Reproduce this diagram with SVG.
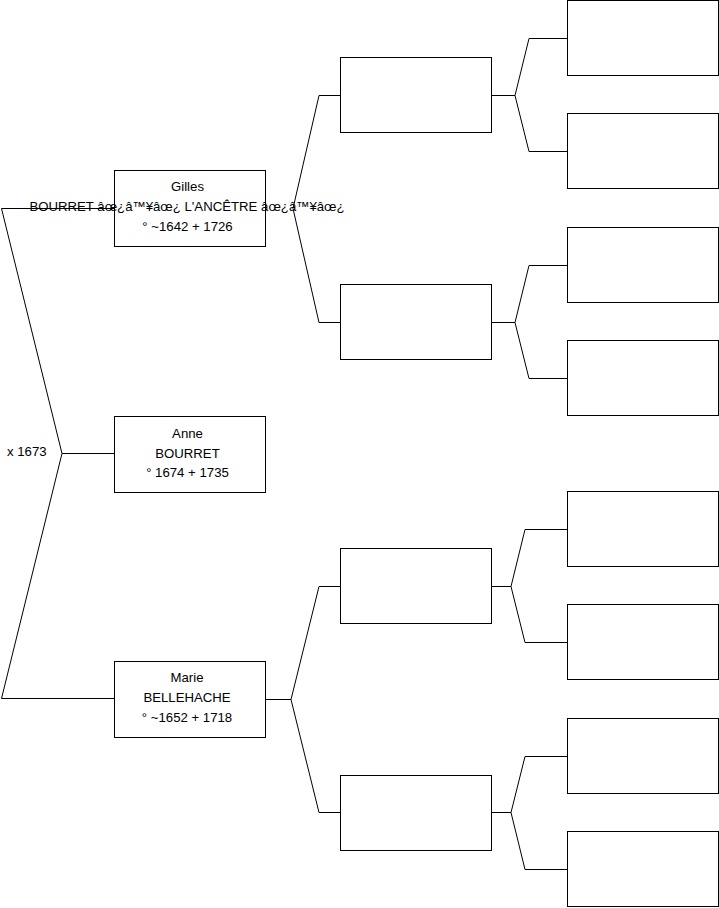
<svg xmlns="http://www.w3.org/2000/svg" width="719" height="908" viewBox="0 0 719 908">
<style>
.box{fill:#fff;stroke:#000;stroke-width:1}
.ln{fill:none;stroke:#000;stroke-width:1}
text{font-family:"Liberation Sans",Arial,sans-serif;font-size:13.2px;fill:#000}
.c{text-anchor:middle}
</style>
<rect width="719" height="908" fill="#fff"/>
<g id="connectors">
<polyline class="ln" points="114,208.5 1.5,208.5 62,453.5 1.5,698.5 114,698.5"/>
<line class="ln" x1="62" y1="453.5" x2="114" y2="453.5"/>
<polyline class="ln" points="319,95.5 293,208.5 319,322.5"/>
<line class="ln" x1="319" y1="95.5" x2="341" y2="95.5"/>
<line class="ln" x1="319" y1="322.5" x2="341" y2="322.5"/>
<polyline class="ln" points="319,586.5 291,699.5 319,812.5"/>
<line class="ln" x1="265" y1="699.5" x2="291" y2="699.5"/>
<line class="ln" x1="319" y1="586.5" x2="341" y2="586.5"/>
<line class="ln" x1="319" y1="812.5" x2="341" y2="812.5"/>
<polyline class="ln" points="567,38.5 529,38.5 515,95.5 529,151.5 567,151.5"/>
<line class="ln" x1="491" y1="95.5" x2="515" y2="95.5"/>
<polyline class="ln" points="567,265.5 529,265.5 515,322.5 529,378.5 567,378.5"/>
<line class="ln" x1="491" y1="322.5" x2="515" y2="322.5"/>
<polyline class="ln" points="567,529.5 525,529.5 511,586.5 525,642.5 567,642.5"/>
<line class="ln" x1="491" y1="586.5" x2="511" y2="586.5"/>
<polyline class="ln" points="567,756.5 525,756.5 511,812.5 525,869.5 567,869.5"/>
<line class="ln" x1="491" y1="812.5" x2="511" y2="812.5"/>
</g>
<g id="gilles">
<rect class="box" x="114.5" y="170.5" width="151" height="76"/>
<text class="c" x="187.5" y="191">Gilles</text>
<text class="c" x="187" y="211">BOURRET âœ¿â™¥âœ¿ L'ANCÊTRE âœ¿â™¥âœ¿</text>
<text class="c" x="187.5" y="230.5">° ~1642 + 1726</text>
</g>
<g id="anne">
<rect class="box" x="114.5" y="416.5" width="151" height="76"/>
<text class="c" x="187.5" y="437.5">Anne</text>
<text class="c" x="187.5" y="457.5">BOURRET</text>
<text class="c" x="187.5" y="477">° 1674 + 1735</text>
</g>
<g id="marriage">
<text x="7" y="456">x 1673</text>
</g>
<g id="marie">
<rect class="box" x="114.5" y="661.5" width="151" height="76"/>
<text class="c" x="187" y="682">Marie</text>
<text class="c" x="187" y="702">BELLEHACHE</text>
<text class="c" x="187" y="722">° ~1652 + 1718</text>
</g>
<g id="p1"><rect class="box" x="340.5" y="57.5" width="151" height="75"/></g>
<g id="p2"><rect class="box" x="340.5" y="284.5" width="151" height="75"/></g>
<g id="p3"><rect class="box" x="340.5" y="548.5" width="151" height="75"/></g>
<g id="p4"><rect class="box" x="340.5" y="775.5" width="151" height="75"/></g>
<g id="g1"><rect class="box" x="567.5" y="0.5" width="151" height="75"/></g>
<g id="g2"><rect class="box" x="567.5" y="113.5" width="151" height="75"/></g>
<g id="g3"><rect class="box" x="567.5" y="227.5" width="151" height="75"/></g>
<g id="g4"><rect class="box" x="567.5" y="340.5" width="151" height="75"/></g>
<g id="g5"><rect class="box" x="567.5" y="491.5" width="151" height="75"/></g>
<g id="g6"><rect class="box" x="567.5" y="604.5" width="151" height="75"/></g>
<g id="g7"><rect class="box" x="567.5" y="718.5" width="151" height="75"/></g>
<g id="g8"><rect class="box" x="567.5" y="831.5" width="151" height="75"/></g>
</svg>
